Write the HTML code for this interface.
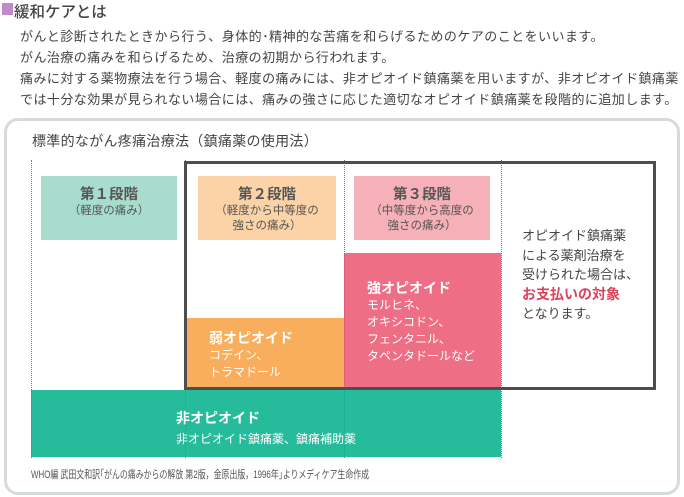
<!DOCTYPE html>
<html><head><meta charset="utf-8"><style>
*{margin:0;padding:0;box-sizing:border-box}
body{width:684px;height:497px;background:#fff;font-family:"Liberation Sans","Noto Sans CJK JP",sans-serif;color:#444;position:relative;overflow:hidden}
.a{position:absolute;white-space:nowrap}
.p{font-size:13px;left:20px;letter-spacing:0.45px}
.v{position:absolute;top:160px;height:298px;border-left:1px dotted #777}
.bx{position:absolute;text-align:center;color:#555}
.bx b{display:block;font-size:14.5px;margin-top:7px;color:#555}
.bx span{font-size:11.5px;line-height:15px;display:block}
.w{color:#fff}
</style></head><body>
<div class="a" style="left:2px;top:3px;width:11px;height:12px;background:#c08ac8"></div>
<div class="a" style="left:14px;top:0px;font-size:15.5px;color:#444;font-weight:500">緩和ケアとは</div>
<div class="a p" style="top:26px">がんと診断されたときから行う、身体的･精神的な苦痛を和らげるためのケアのことをいいます。</div>
<div class="a p" style="top:47px">がん治療の痛みを和らげるため、治療の初期から行われます。</div>
<div class="a p" style="top:68px">痛みに対する薬物療法を行う場合、軽度の痛みには、非オピオイド鎮痛薬を用いますが、非オピオイド鎮痛薬</div>
<div class="a p" style="top:89px">では十分な効果が見られない場合には、痛みの強さに応じた適切なオピオイド鎮痛薬を段階的に追加します。</div>
<div class="a" style="left:4px;top:118px;width:676px;height:377px;border:3px solid #d6dcdd;border-radius:14px"></div>
<div class="a" style="left:32px;top:131px;font-size:14px;color:#444;letter-spacing:0.3px">標準的ながん疼痛治療法（鎮痛薬の使用法）</div>
<div class="a" style="left:344px;top:253px;width:157px;height:135px;background:#ee6e86"></div>
<div class="a" style="left:185px;top:318px;width:159px;height:70px;background:#f9ae5d"></div>
<div class="a" style="left:31px;top:390px;width:470px;height:67px;background:#25bb9b"></div>
<div class="v" style="left:31px"></div><div class="v" style="left:185px"></div><div class="v" style="left:344px"></div><div class="v" style="left:501px;height:298px"></div>
<div class="a" style="left:184px;top:161px;width:472px;height:229px;border:3px solid #4e4e4e"></div>
<div class="bx" style="left:41px;top:176px;width:136px;height:64px;background:#a8dccd"><b>第１段階</b><span>（軽度の痛み）</span></div>
<div class="bx" style="left:198px;top:176px;width:138px;height:64px;background:#fcd3a6"><b>第２段階</b><span>（軽度から中等度の<br>強さの痛み）</span></div>
<div class="bx" style="left:354px;top:176px;width:136px;height:64px;background:#f6b0b8"><b>第３段階</b><span>（中等度から高度の<br>強さの痛み）</span></div>
<div class="a w" style="left:367px;top:278px;font-size:14px;font-weight:bold">強オピオイド</div>
<div class="a w" style="left:367px;top:297px;font-size:12px;line-height:17px">モルヒネ、<br>オキシコドン、<br>フェンタニル、<br>タペンタドールなど</div>
<div class="a w" style="left:209px;top:328px;font-size:14px;font-weight:bold">弱オピオイド</div>
<div class="a w" style="left:209px;top:347px;font-size:12px;line-height:17px">コデイン、<br>トラマドール</div>
<div class="a w" style="left:176px;top:408px;font-size:14px;font-weight:bold">非オピオイド</div>
<div class="a w" style="left:176px;top:430px;font-size:12px">非オピオイド鎮痛薬、鎮痛補助薬</div>
<div class="a" style="left:522px;top:226px;font-size:13px;line-height:19.5px;color:#444">オピオイド鎮痛薬<br>による薬剤治療を<br>受けられた場合は、<br><b style="color:#d9435d;font-size:14px">お支払いの対象</b><br>となります。</div>
<div class="a" style="left:31px;top:466px;font-size:11px;color:#555;transform:scaleX(0.72);transform-origin:0 0">WHO編 武田文和訳｢がんの痛みからの解放 第2版，金原出版，1996年｣よりメディケア生命作成</div>
</body></html>
